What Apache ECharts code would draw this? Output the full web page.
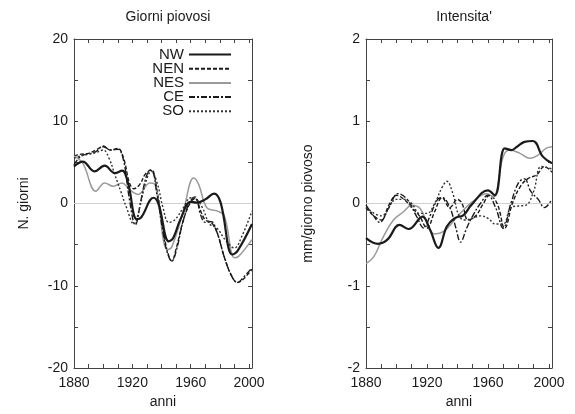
<!DOCTYPE html>
<html>
<head>
<meta charset="utf-8">
<script src="https://cdn.jsdelivr.net/npm/echarts@6/dist/echarts.min.js"></script>
<style>
html,body{margin:0;padding:0;background:#fff;}
#chart{width:575px;height:414px;}
</style>
</head>
<body>
<div id="chart"></div>
<script>
// ---- Data ----
var seriesNames = ['NW', 'NEN', 'NES', 'CE', 'SO'];
var panelTitles = ['Giorni piovosi', "Intensita'"];
var yNames = ['N. giorni', 'mm/giorno piovoso'];
var xName = 'anni';
var xTickLabels = [1880, 1920, 1960, 2000];
var xMinorTicks = [1880, 1890, 1900, 1910, 1920, 1930, 1940, 1950, 1960, 1970, 1980, 1990, 2000];
var giorniTickLabels = [-20, -10, 0, 10, 20];
var giorniTicks = [-20, -15, -10, -5, 0, 5, 10, 15, 20];
var intensTickLabels = [-2, -1, 0, 1, 2];
var intensTicks = [-2, -1.5, -1, -0.5, 0, 0.5, 1, 1.5, 2];

// Giorni piovosi [year, value]
var giorniNW = [[1880,4.5],[1886,5.1],[1894,3.9],[1901,4.6],[1908,3.7],[1913,4.0],[1917,2.5],[1923,-1.9],[1926,-1.7],[1934.5,0.7],[1938,-0.1],[1945,-4.6],[1948,-4.2],[1953,-1.9],[1960,0.2],[1964,0.1],[1970,0.5],[1976,1.2],[1980.5,0.1],[1988.5,-6.2],[1992,-5.8],[2002,-2.5]];
var giorniNEN = [[1880,5.8],[1885,6.0],[1890,6.1],[1895,6.5],[1900,6.9],[1905,6.5],[1910,6.7],[1914,5.5],[1918,2.5],[1921,1.8],[1925,2.3],[1929,3.6],[1933,4.1],[1937,1.5],[1941,-3.0],[1944,-5.8],[1947,-7.0],[1950,-5.5],[1955,-2.0],[1960,0.2],[1963,0.6],[1967,-1.0],[1970,-2.0],[1974,-2.3],[1978,-3.5],[1983,-6.5],[1988,-8.8],[1992,-9.6],[1996,-9.2],[2002,-8.0]];
var giorniNES = [[1880,5.8],[1886,4.9],[1895,1.5],[1901,2.5],[1907,2.1],[1913,2.5],[1918,1.7],[1924,1.1],[1932,2.5],[1935.5,2.3],[1944,-5.6],[1947,-5.3],[1955,-0.9],[1962,3.1],[1965.5,2.3],[1971,-0.5],[1978,-0.9],[1983,-1.5],[1990,-6.6],[1993,-6.4],[2002,-4.4]];
var giorniCE = [[1880,4.7],[1885,5.8],[1890,6.0],[1895,6.3],[1900,7.0],[1905,6.5],[1910,6.6],[1914,5.2],[1918,0.5],[1922,-2.6],[1926,0.5],[1930,3.5],[1933,4.0],[1937,1.0],[1941,-3.5],[1944,-6.0],[1947,-7.0],[1950,-5.8],[1955,-2.0],[1960,0.4],[1963,0.8],[1967,-1.5],[1970,-2.3],[1974,-2.2],[1978,-3.5],[1983,-6.5],[1988,-8.8],[1992,-9.6],[1996,-9.0],[2002,-7.8]];
var giorniSO = [[1880,5.5],[1885,5.8],[1890,6.0],[1895,6.2],[1900,6.5],[1904,5.5],[1908,3.5],[1912,1.5],[1916,-0.5],[1921,-2.5],[1925,-0.5],[1929,2.5],[1933,3.9],[1937,2.5],[1941,-0.5],[1945,-2.3],[1949,-2.0],[1955,-0.5],[1960,0.7],[1964,0.5],[1968,-0.5],[1973,-2.5],[1978,-3.0],[1984,-4.5],[1990,-5.4],[1995,-4.0],[2002,-0.9]];

// Intensita' [year, value]
var intensNW = [[1880,-0.42],[1888,-0.49],[1894,-0.44],[1902,-0.26],[1908,-0.31],[1917,-0.16],[1922,-0.32],[1927.5,-0.54],[1933,-0.28],[1938,-0.18],[1944,-0.14],[1949,-0.02],[1960,0.16],[1964.5,0.10],[1971,0.67],[1975.5,0.65],[1979,0.69],[1984,0.75],[1989.5,0.76],[1996,0.57],[2002,0.49]];
var intensNEN = [[1880,-0.05],[1885,-0.15],[1890,-0.2],[1895,-0.02],[1900,0.1],[1905,0.05],[1910,-0.05],[1915,-0.15],[1920,-0.3],[1925,-0.1],[1930,0.07],[1935,-0.05],[1940,0.05],[1943,0.0],[1947,-0.2],[1952,-0.15],[1957,0.0],[1961,0.1],[1966,0.0],[1971,-0.3],[1976,0.0],[1981,0.2],[1986,0.3],[1992,0.35],[1997,0.45],[2002,0.38]];
var intensNES = [[1880,-0.73],[1885,-0.65],[1891.5,-0.40],[1898,-0.20],[1904.6,-0.10],[1910,-0.02],[1915.5,-0.06],[1921,-0.28],[1925,-0.37],[1931,-0.34],[1938,-0.20],[1946,-0.04],[1952.5,0.06],[1959,0.12],[1963.5,0.08],[1970,0.57],[1974,0.65],[1981,0.61],[1987.5,0.55],[1993,0.59],[1998,0.67],[2002,0.69]];
var intensCE = [[1880,-0.02],[1885,-0.15],[1889,-0.23],[1895,-0.05],[1901,0.12],[1907,0.05],[1913,-0.15],[1918,-0.3],[1922,-0.15],[1927,0.05],[1930,0.07],[1935,-0.05],[1939,-0.3],[1942,-0.47],[1946,-0.3],[1950,-0.15],[1955,0.0],[1960,0.1],[1965,-0.05],[1970,-0.3],[1975,0.0],[1980,0.25],[1984,0.3],[1988,0.15],[1993,0.05],[1997,-0.05],[2002,0.05]];
var intensSO = [[1880,-0.05],[1890,-0.15],[1900,0.05],[1905,0.05],[1910,0.0],[1915,-0.12],[1920,-0.12],[1925,0.0],[1930,0.2],[1933,0.27],[1937,0.12],[1941,-0.15],[1945,-0.2],[1950,-0.18],[1955,-0.15],[1960,-0.18],[1965,-0.25],[1970,-0.25],[1975,-0.05],[1980,-0.03],[1985,-0.02],[1990,0.15],[1995,0.45],[2002,0.42]];

var giorniData = [giorniNW, giorniNEN, giorniNES, giorniCE, giorniSO];
var intensData = [intensNW, intensNEN, intensNES, intensCE, intensSO];

// ---- Styles ----
var FONT = 'Liberation Sans, Arial, Helvetica, sans-serif';
var frameColor = '#444';
var textColor = '#1a1a1a';
var lineStyles = [
  {color: '#1a1a1a', width: 2.2, type: 'solid'},
  {color: '#1a1a1a', width: 1.4, type: [4, 2]},
  {color: '#9a9a9a', width: 1.5, type: 'solid'},
  {color: '#1a1a1a', width: 1.4, type: [6, 2, 2, 2]},
  {color: '#333333', width: 1.4, type: [2, 2]}
];

var grids = [
  {left: 74, top: 39, width: 178, height: 329},
  {left: 366, top: 39, width: 186, height: 329}
];

function plain(v) { return String(v); }

function xAxes(gridIndex) {
  var base = {
    type: 'value', gridIndex: gridIndex, min: 1880, max: 2002,
    splitLine: {show: false},
    axisLine: {show: true, onZero: false, lineStyle: {color: frameColor, width: 1}},
    axisTick: {show: true, inside: true, length: 4, customValues: xMinorTicks, lineStyle: {color: frameColor}}
  };
  var bottom = Object.assign({}, base, {
    position: 'bottom', name: xName, nameLocation: 'middle', nameGap: 27,
    nameTextStyle: {fontFamily: FONT, fontSize: 14, color: textColor},
    axisLabel: {show: true, customValues: xTickLabels, formatter: plain, fontFamily: FONT, fontSize: 14, color: textColor, margin: 8}
  });
  var top = Object.assign({}, base, {position: 'top', axisLabel: {show: false}});
  return [bottom, top];
}

function yAxes(gridIndex, min, max, ticks, labels, name, gap) {
  var base = {
    type: 'value', gridIndex: gridIndex, min: min, max: max,
    splitLine: {show: false},
    axisLine: {show: true, onZero: false, lineStyle: {color: frameColor, width: 1}},
    axisTick: {show: true, inside: true, length: 4, customValues: ticks, lineStyle: {color: frameColor}}
  };
  var left = Object.assign({}, base, {
    position: 'left', name: name, nameLocation: 'middle', nameGap: gap, nameRotate: 90,
    nameTextStyle: {fontFamily: FONT, fontSize: 14, color: textColor},
    axisLabel: {show: true, customValues: labels, formatter: plain, fontFamily: FONT, fontSize: 14, color: textColor, margin: 6}
  });
  var right = Object.assign({}, base, {position: 'right', axisLabel: {show: false}});
  return [left, right];
}

var xAxisList = xAxes(0).concat(xAxes(1));
var yAxisList = yAxes(0, -20, 20, giorniTicks, giorniTickLabels, yNames[0], 43)
  .concat(yAxes(1, -2, 2, intensTicks, intensTickLabels, yNames[1], 51));

var series = [];
function addPanel(dataSets, xIdx, yIdx) {
  dataSets.forEach(function (d, i) {
    var s = {
      name: seriesNames[i],
      type: 'line',
      xAxisIndex: xIdx,
      yAxisIndex: yIdx,
      data: d,
      smooth: 0.4,
      symbol: 'none',
      showSymbol: false,
      clip: true,
      lineStyle: lineStyles[i],
      itemStyle: {color: lineStyles[i].color},
      z: i === 0 ? 6 : 5
    };
    if (i === 0) {
      s.markLine = {
        silent: true, symbol: 'none', animation: false,
        label: {show: false},
        lineStyle: {color: '#d0d0d0', width: 1, type: 'solid'},
        data: [{yAxis: 0}]
      };
    }
    series.push(s);
  });
}
addPanel(giorniData, 0, 0);
addPanel(intensData, 2, 2);

var chart = echarts.init(document.getElementById('chart'), null, {renderer: 'canvas'});
chart.setOption({
  animation: false,
  backgroundColor: '#fff',
  title: [
    {text: panelTitles[0], left: 163, top: 5, textAlign: 'center',
     textStyle: {fontFamily: FONT, fontSize: 14, fontWeight: 'normal', color: textColor}},
    {text: panelTitles[1], left: 459, top: 5, textAlign: 'center',
     textStyle: {fontFamily: FONT, fontSize: 14, fontWeight: 'normal', color: textColor}}
  ],
  legend: {
    data: seriesNames,
    orient: 'vertical',
    align: 'right',
    right: 343,
    top: 47,
    itemWidth: 42,
    itemHeight: 10,
    itemGap: -0.8,
    padding: 0,
    itemStyle: {opacity: 0},
    textStyle: {fontFamily: FONT, fontSize: 15, lineHeight: 13, height: 13, color: textColor}
  },
  grid: grids,
  xAxis: xAxisList,
  yAxis: yAxisList,
  series: series
});
</script>
</body>
</html>
